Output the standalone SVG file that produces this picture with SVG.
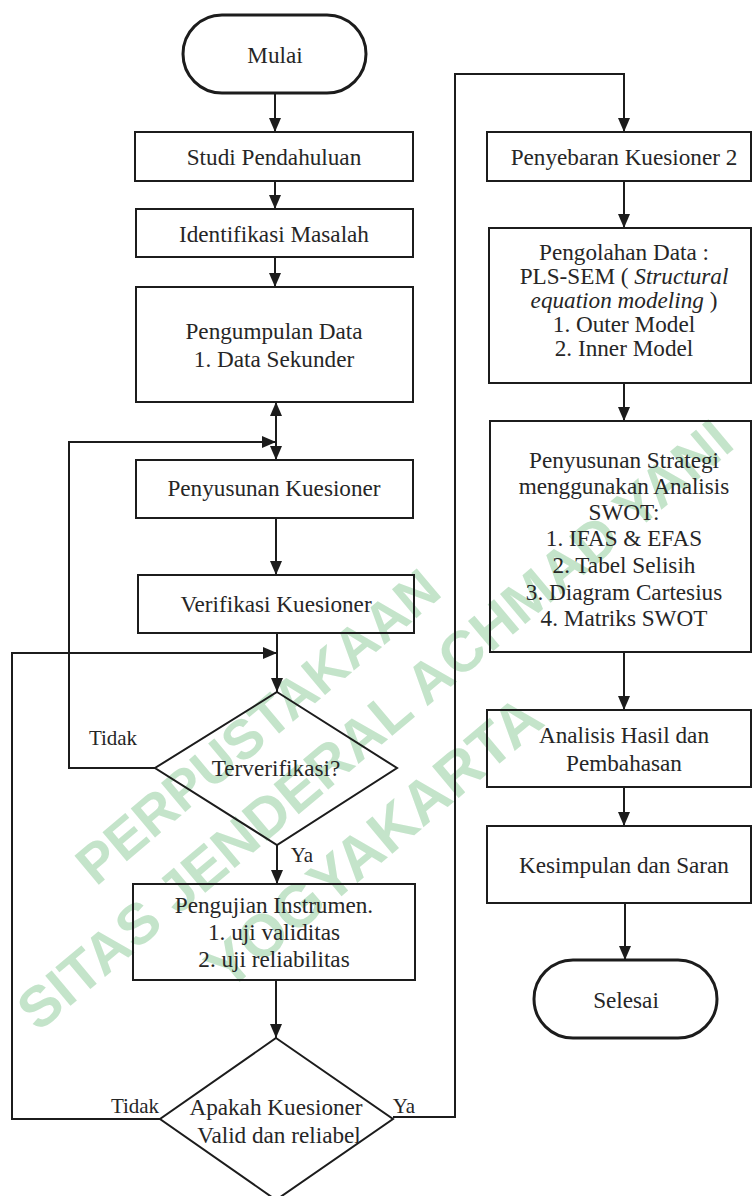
<svg xmlns="http://www.w3.org/2000/svg" width="752" height="1196" viewBox="0 0 752 1196">
<style>
.box{fill:none;stroke:#1c1c1c;stroke-width:2}
.term{fill:none;stroke:#1c1c1c;stroke-width:3}
.t{font-family:"Liberation Serif","Times New Roman",serif;font-size:23.2px;fill:#262626;text-anchor:middle;dominant-baseline:central}
.lbl{font-family:"Liberation Serif","Times New Roman",serif;font-size:21px;fill:#262626;text-anchor:middle;dominant-baseline:central}
.wm{font-family:"Liberation Sans",Arial,sans-serif;font-weight:bold;fill:#c4e4ca}
.conn path{fill:none;stroke:#1c1c1c;stroke-width:2}
</style>
<defs>
<marker id="arr" markerUnits="userSpaceOnUse" markerWidth="14" markerHeight="12" refX="14" refY="6" orient="auto">
<path d="M0,0 L14,6 L0,12 z" fill="#1c1c1c"/>
</marker>
</defs>
<rect width="752" height="1196" fill="#ffffff"/>
<g id="watermark">
<text class="wm" x="270" y="741" font-size="55" text-anchor="middle" transform="rotate(-40 270 741)">PERPUSTAKAAN</text>
<text class="wm" x="38" y="1033" font-size="57" transform="rotate(-40 38 1033)" textLength="912" lengthAdjust="spacingAndGlyphs">SITAS JENDERAL ACHMAD YANI</text>
<text class="wm" x="387" y="858" font-size="60" text-anchor="middle" transform="rotate(-40 387 858)">YOGYAKARTA</text>
</g>
<g id="connectors" class="conn">
<path d="M275,93 V132" marker-end="url(#arr)"/>
<path d="M275,181 V209" marker-end="url(#arr)"/>
<path d="M275,257 V287" marker-end="url(#arr)"/>
<path d="M276,431 V402" marker-end="url(#arr)"/>
<path d="M276,431 V460" marker-end="url(#arr)"/>
<path d="M155,768 H69 V442 H276" marker-end="url(#arr)"/>
<path d="M276,518 V575" marker-end="url(#arr)"/>
<path d="M277,633 V692" marker-end="url(#arr)"/>
<path d="M160,1119 H12 V653 H277" marker-end="url(#arr)"/>
<path d="M277,845 V884" marker-end="url(#arr)"/>
<path d="M276,980 V1038" marker-end="url(#arr)"/>
<path d="M393,1117 H455 V74 H624 V132" marker-end="url(#arr)"/>
<path d="M624,181 V228" marker-end="url(#arr)"/>
<path d="M624,383 V421" marker-end="url(#arr)"/>
<path d="M624,652 V710" marker-end="url(#arr)"/>
<path d="M624,787 V826" marker-end="url(#arr)"/>
<path d="M625,903 V960" marker-end="url(#arr)"/>
<text class="lbl" x="113" y="738">Tidak</text>
<text class="lbl" x="302" y="855">Ya</text>
<text class="lbl" x="135" y="1106">Tidak</text>
<text class="lbl" x="404" y="1106">Ya</text>
</g>
<g id="mulai"><rect class="term" x="183" y="15" width="183" height="78" rx="39" ry="39"/><text class="t" x="275" y="55">Mulai</text></g>
<g id="studi"><rect class="box" x="135" y="132" width="278" height="49"/><text class="t" x="274" y="157">Studi Pendahuluan</text></g>
<g id="identifikasi"><rect class="box" x="136" y="209" width="277" height="48"/><text class="t" x="274" y="234">Identifikasi Masalah</text></g>
<g id="pengumpulan"><rect class="box" x="136" y="287" width="277" height="115"/><text class="t" x="274" y="331">Pengumpulan Data</text><text class="t" x="274" y="359">1. Data Sekunder</text></g>
<g id="penyusunan-kuesioner"><rect class="box" x="136" y="460" width="277" height="58"/><text class="t" x="274" y="488">Penyusunan Kuesioner</text></g>
<g id="verifikasi"><rect class="box" x="138" y="575" width="276" height="58"/><text class="t" x="276" y="604">Verifikasi Kuesioner</text></g>
<g id="terverifikasi"><polygon class="box" points="277,692 397,768 277,845 155,768"/><text class="t" x="276" y="768">Terverifikasi?</text></g>
<g id="pengujian"><rect class="box" x="133" y="884" width="282" height="96"/><text class="t" x="274" y="905">Pengujian Instrumen.</text><text class="t" x="274" y="932">1. uji validitas</text><text class="t" x="274" y="959">2. uji reliabilitas</text></g>
<g id="apakah"><polygon class="box" points="276,1038 393,1119 276,1200 160,1119"/><text class="t" x="276" y="1107">Apakah Kuesioner</text><text class="t" x="279" y="1135">Valid dan reliabel</text></g>
<g id="penyebaran"><rect class="box" x="487" y="132" width="264" height="49"/><text class="t" x="624" y="157">Penyebaran Kuesioner 2</text></g>
<g id="pengolahan"><rect class="box" x="489" y="228" width="262" height="155"/>
<text class="t" x="624" y="252">Pengolahan Data :</text>
<text class="t" x="624" y="276">PLS-SEM ( <tspan font-style="italic">Structural</tspan></text>
<text class="t" x="624" y="300"><tspan font-style="italic">equation modeling</tspan> )</text>
<text class="t" x="624" y="324">1. Outer Model</text>
<text class="t" x="624" y="348">2. Inner Model</text></g>
<g id="strategi"><rect class="box" x="490" y="421" width="261" height="231"/>
<text class="t" x="624" y="460">Penyusunan Strategi</text>
<text class="t" x="624" y="486">menggunakan Analisis</text>
<text class="t" x="624" y="512">SWOT:</text>
<text class="t" x="624" y="538">1. IFAS &amp; EFAS</text>
<text class="t" x="624" y="565">2. Tabel Selisih</text>
<text class="t" x="624" y="592">3. Diagram Cartesius</text>
<text class="t" x="624" y="618">4. Matriks SWOT</text></g>
<g id="analisis"><rect class="box" x="487" y="710" width="264" height="77"/><text class="t" x="624" y="735">Analisis Hasil dan</text><text class="t" x="624" y="763">Pembahasan</text></g>
<g id="kesimpulan"><rect class="box" x="487" y="826" width="264" height="77"/><text class="t" x="624" y="865">Kesimpulan dan Saran</text></g>
<g id="selesai"><rect class="term" x="534" y="960" width="183" height="78" rx="39" ry="39"/><text class="t" x="626" y="1000">Selesai</text></g>
</svg>
